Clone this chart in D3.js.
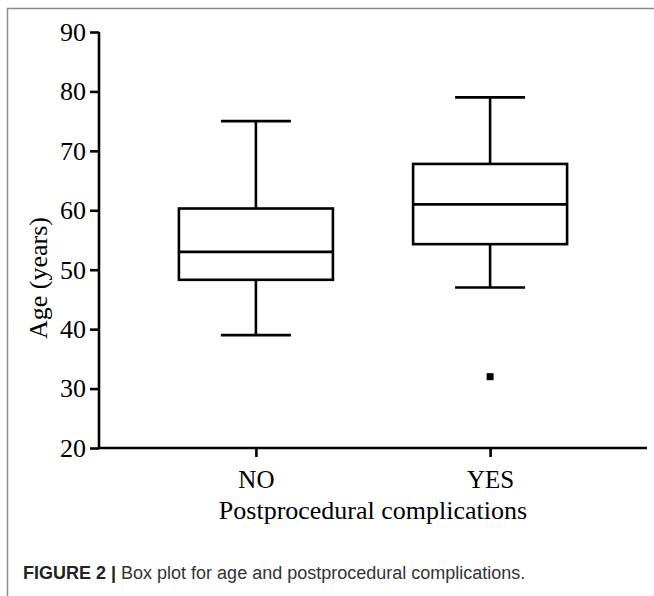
<!DOCTYPE html>
<html>
<head>
<meta charset="utf-8">
<script src="https://cdn.jsdelivr.net/npm/d3@7"></script>
<style>
  body { margin: 0; background: #fff; }
  svg { display: block; }
</style>
</head>
<body>
<script>
// categorie e statistiche dei box plot
var categories = ["NO", "YES"];
var whiskerLow = [39, 47];
var q1 = [48.3, 54.3];
var median = [53, 61];
var q3 = [60.3, 67.8];
var whiskerHigh = [75, 79];
var outliers = [{ cat: "YES", value: 32 }];
var yTicks = [20, 30, 40, 50, 60, 70, 80, 90];

var width = 654, height = 596;
var serif = "'Liberation Serif', 'Times New Roman', serif";

var svg = d3.select("body").append("svg")
  .attr("width", width)
  .attr("height", height);

// cornice grigia della figura
svg.append("path")
  .attr("d", "M7.5,596 L7.5,8.5 L654,8.5")
  .attr("fill", "none")
  .attr("stroke", "#8a8a8a")
  .attr("stroke-width", 1.5);

var x = d3.scalePoint().domain(categories).range([99, 647]).padding(0.67);
var y = d3.scaleLinear().domain([20, 90]).range([448, 32]);

var boxHalf = 77, capHalf = 35;
var lw = 2.6;

// asse y
var yAxis = svg.append("g")
  .attr("transform", "translate(99,0)")
  .call(d3.axisLeft(y).tickValues(yTicks).tickSize(9).tickPadding(4));
yAxis.select(".domain").attr("stroke-width", lw).attr("d", "M0," + y(90) + "V" + y(20));
yAxis.selectAll(".tick line").attr("stroke-width", lw);
yAxis.selectAll(".tick text")
  .attr("font-family", serif)
  .attr("font-size", 26)
  .attr("fill", "#000");

// asse x
var xAxis = svg.append("g")
  .attr("transform", "translate(0,448)")
  .call(d3.axisBottom(x).tickSize(9).tickPadding(13));
xAxis.select(".domain").attr("stroke-width", lw).attr("d", "M99,0H647");
xAxis.selectAll(".tick line").attr("stroke-width", lw);
xAxis.selectAll(".tick text")
  .attr("font-family", serif)
  .attr("font-size", 25)
  .attr("fill", "#000");

// box plot
var boxes = svg.selectAll(".box")
  .data(categories)
  .enter().append("g")
  .attr("class", "box");

boxes.each(function (c, i) {
  var g = d3.select(this);
  var cx = x(c);
  // baffi
  g.append("line").attr("x1", cx).attr("x2", cx)
    .attr("y1", y(whiskerHigh[i])).attr("y2", y(q3[i]));
  g.append("line").attr("x1", cx).attr("x2", cx)
    .attr("y1", y(q1[i])).attr("y2", y(whiskerLow[i]));
  g.append("line").attr("x1", cx - capHalf).attr("x2", cx + capHalf)
    .attr("y1", y(whiskerHigh[i])).attr("y2", y(whiskerHigh[i]));
  g.append("line").attr("x1", cx - capHalf).attr("x2", cx + capHalf)
    .attr("y1", y(whiskerLow[i])).attr("y2", y(whiskerLow[i]));
  // scatola
  g.append("rect")
    .attr("x", cx - boxHalf)
    .attr("y", y(q3[i]))
    .attr("width", boxHalf * 2)
    .attr("height", y(q1[i]) - y(q3[i]))
    .attr("fill", "none");
  // mediana
  g.append("line").attr("x1", cx - boxHalf).attr("x2", cx + boxHalf)
    .attr("y1", y(median[i])).attr("y2", y(median[i]));
});
boxes.selectAll("line, rect")
  .attr("stroke", "#000")
  .attr("stroke-width", lw);

// valori anomali
svg.selectAll(".outlier")
  .data(outliers)
  .enter().append("rect")
  .attr("class", "outlier")
  .attr("x", d => x(d.cat) - 3.5)
  .attr("y", d => y(d.value) - 3.5)
  .attr("width", 7)
  .attr("height", 7)
  .attr("fill", "#000");

// titoli degli assi
svg.append("text")
  .attr("transform", "translate(47,278) rotate(-90)")
  .attr("text-anchor", "middle")
  .attr("font-family", serif)
  .attr("font-size", 26)
  .text("Age (years)");

svg.append("text")
  .attr("x", 373)
  .attr("y", 519)
  .attr("text-anchor", "middle")
  .attr("font-family", serif)
  .attr("font-size", 26)
  .text("Postprocedural complications");

// didascalia
var caption = svg.append("text")
  .attr("x", 23)
  .attr("y", 579)
  .attr("font-family", "'Liberation Sans', Arial, sans-serif")
  .attr("font-size", 18)
  .attr("fill", "#333");
caption.append("tspan").attr("font-weight", "bold").attr("fill", "#222").text("FIGURE 2 | ");
caption.append("tspan").text("Box plot for age and postprocedural complications.");
</script>
</body>
</html>
